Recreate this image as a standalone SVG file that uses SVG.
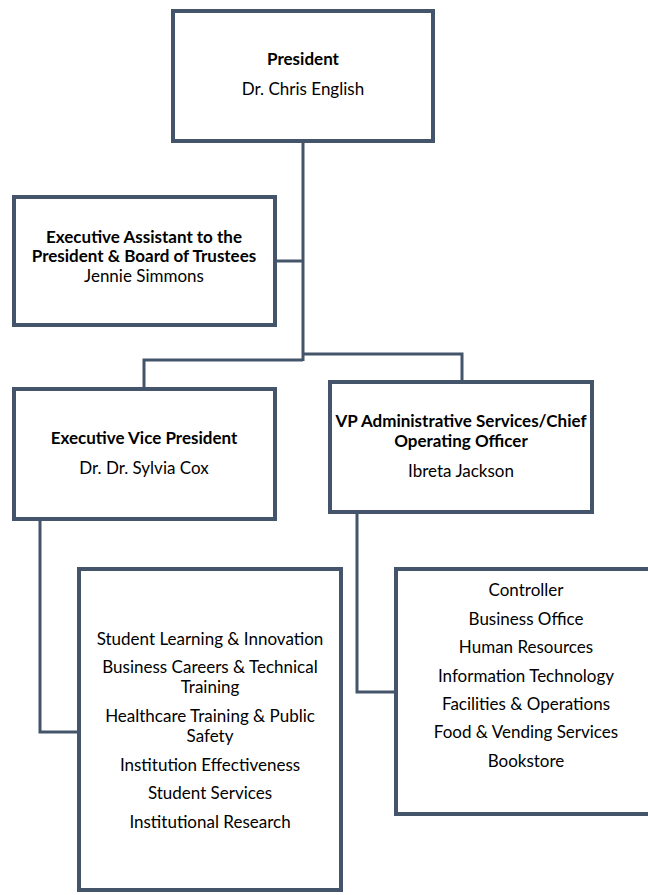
<svg xmlns="http://www.w3.org/2000/svg" width="648" height="895" viewBox="0 0 648 895">
<style>
.box{fill:#fff;stroke:#44546A;stroke-width:4}
.conn{fill:none;stroke:#44546A;stroke-width:3}
text{font-family:Lato,"Open Sans",sans-serif;font-size:17px;fill:#000;text-anchor:middle}
.b{font-weight:bold}
</style>
<rect width="648" height="895" fill="#fff"/>
<g id="connectors">
<polyline class="conn" points="303,141 303,361"/>
<polyline class="conn" points="275,261 303,261"/>
<polyline class="conn" points="303,354 462,354 462,382"/>
<polyline class="conn" points="303,360 144,360 144,389"/>
<polyline class="conn" points="40,519 40,732 79,732"/>
<polyline class="conn" points="357,512 357,692 396,692"/>
</g>
<g id="president">
<rect class="box" x="173" y="11" width="260" height="130"/>
<text class="b" x="303" y="65">President</text>
<text x="303" y="95">Dr. Chris English</text>
</g>
<g id="exec-assistant">
<rect class="box" x="14" y="197" width="261" height="128"/>
<text class="b" x="144" y="243">Executive Assistant to the</text>
<text class="b" x="144" y="262">President &amp; Board of Trustees</text>
<text x="144" y="282">Jennie Simmons</text>
</g>
<g id="evp">
<rect class="box" x="14" y="389" width="261" height="130"/>
<text class="b" x="144" y="444">Executive Vice President</text>
<text x="144" y="474">Dr. Dr. Sylvia Cox</text>
</g>
<g id="vp-admin">
<rect class="box" x="330" y="382" width="262" height="130"/>
<text class="b" x="461" y="427">VP Administrative Services/Chief</text>
<text class="b" x="461" y="447">Operating Officer</text>
<text x="461" y="477">Ibreta Jackson</text>
</g>
<g id="evp-units">
<rect class="box" x="79" y="569" width="262" height="321"/>
<text x="210" y="645">Student Learning &amp; Innovation</text>
<text x="210" y="673">Business Careers &amp; Technical</text>
<text x="210" y="693">Training</text>
<text x="210" y="722">Healthcare Training &amp; Public</text>
<text x="210" y="742">Safety</text>
<text x="210" y="771">Institution Effectiveness</text>
<text x="210" y="799">Student Services</text>
<text x="210" y="828">Institutional Research</text>
</g>
<g id="vp-units">
<rect class="box" x="396" y="569" width="260" height="245"/>
<text x="526" y="596">Controller</text>
<text x="526" y="625">Business Office</text>
<text x="526" y="653">Human Resources</text>
<text x="526" y="682">Information Technology</text>
<text x="526" y="710">Facilities &amp; Operations</text>
<text x="526" y="738">Food &amp; Vending Services</text>
<text x="526" y="767">Bookstore</text>
</g>
</svg>
